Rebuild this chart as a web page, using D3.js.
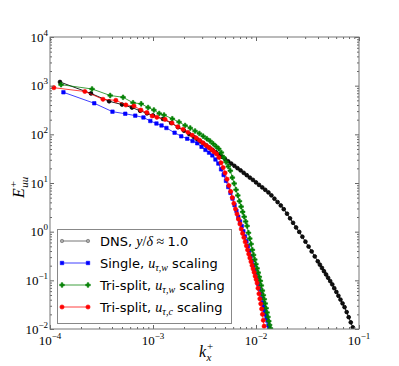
<!DOCTYPE html>
<html>
<head>
<meta charset="utf-8">
<script src="https://cdn.jsdelivr.net/npm/d3@7"></script>
<style>
body { margin: 0; background: #fff; }
svg { display: block; }
</style>
</head>
<body>
<svg id="svg1" width="399" height="366"></svg>
<script>
// axis ticks
var xTicks = [1e-4, 1e-3, 1e-2, 1e-1];
var xTickExp = ['\u22124', '\u22123', '\u22122', '\u22121'];
var yTicks = [1e-2, 1e-1, 1e0, 1e1, 1e2, 1e3, 1e4];
var yTickExp = ['\u22122', '\u22121', '0', '1', '2', '3', '4'];

// DNS, y/delta ~ 1.0
var dnsK = [1.25e-4, 2.5e-4, 3.75e-4, 5e-4, 6.25e-4, 7.5e-4, 8.75e-4, 1e-3, 1.25e-3, 1.5e-3, 1.75e-3, 2e-3, 2.25e-3, 2.5e-3,
  2.69e-3, 2.88e-3, 3.09e-3, 3.31e-3, 3.55e-3, 3.80e-3, 4.07e-3, 4.37e-3, 4.68e-3, 5.01e-3,
  5.37e-3, 5.75e-3, 6.17e-3, 6.61e-3, 7.08e-3, 7.59e-3, 8.13e-3, 8.71e-3, 9.33e-3, 1.00e-2,
  1.07e-2, 1.15e-2, 1.23e-2, 1.32e-2, 1.41e-2, 1.51e-2, 1.62e-2, 1.74e-2, 1.86e-2, 2.00e-2,
  2.14e-2, 2.29e-2, 2.45e-2, 2.63e-2, 2.82e-2, 3.02e-2, 3.24e-2, 3.47e-2, 3.72e-2, 3.98e-2,
  4.17e-2, 4.37e-2, 4.57e-2, 4.79e-2, 5.01e-2, 5.25e-2, 5.50e-2, 5.75e-2, 6.03e-2, 6.31e-2,
  6.61e-2, 6.92e-2, 7.24e-2, 7.59e-2, 7.94e-2, 8.32e-2, 8.71e-2];
var dnsE = [1190, 692, 478, 410, 355, 305, 270, 244, 207, 171, 140, 119, 101, 88,
  79.1, 71.6, 64.7, 58.6, 53.0, 47.6, 42.9, 38.5, 34.6, 31.0,
  27.9, 25.1, 22.5, 20.2, 18.2, 16.2, 14.5, 12.9, 11.6, 10.3,
  9.14, 8.13, 7.23, 6.41, 5.58, 4.76, 4.06, 3.45, 2.90, 2.34,
  1.88, 1.52, 1.22, 0.989, 0.787, 0.624, 0.494, 0.392, 0.310, 0.246,
  0.210, 0.180, 0.154, 0.132, 0.113, 0.0966, 0.0826, 0.0690, 0.0577, 0.0482,
  0.0402, 0.0336, 0.0281, 0.0223, 0.0175, 0.0137, 0.0108];

// Single, u_tau,w scaling
var singleK = [1.35e-4, 2.69e-4, 4.04e-4, 5.38e-4, 6.73e-4, 8.08e-4, 9.42e-4, 1.08e-3, 1.21e-3, 1.35e-3,
  1.62e-3, 1.88e-3, 2.15e-3, 2.42e-3, 2.69e-3,
  2.96e-3, 3.23e-3, 3.50e-3, 3.77e-3, 4.04e-3, 4.31e-3, 4.58e-3, 4.85e-3, 5.11e-3, 5.38e-3,
  5.65e-3, 5.92e-3, 6.19e-3, 6.46e-3, 6.73e-3, 7.00e-3, 7.27e-3, 7.54e-3, 7.81e-3, 8.08e-3,
  8.35e-3, 8.61e-3, 8.88e-3, 9.15e-3, 9.42e-3, 9.69e-3, 9.96e-3, 1.023e-2, 1.050e-2, 1.077e-2,
  1.104e-2, 1.131e-2, 1.158e-2, 1.184e-2, 1.211e-2, 1.238e-2, 1.265e-2, 1.292e-2, 1.319e-2, 1.346e-2];
var singleE = [731, 435, 292, 265, 242, 222, 188, 167, 152, 135,
  108, 91.2, 81.3, 73.0, 65.5,
  55.5, 47.9, 42.0, 36.9, 30.4, 25.1, 19.1, 14.6, 11.1, 8.28,
  6.27, 4.79, 3.50, 2.67, 2.02, 1.62, 1.30, 1.02, 0.800, 0.634,
  0.504, 0.406, 0.316, 0.251, 0.203, 0.161, 0.130, 0.105, 0.0845, 0.0675,
  0.0535, 0.0426, 0.0346, 0.0286, 0.0237, 0.0200, 0.0172, 0.0148, 0.0119, 0.0103];

// Tri-split, u_tau,w scaling
var triWK = [1.28e-4, 2.56e-4, 3.84e-4, 5.12e-4, 6.40e-4, 7.68e-4, 8.96e-4, 1.02e-3, 1.15e-3, 1.28e-3,
  1.54e-3, 1.79e-3, 2.05e-3, 2.30e-3, 2.56e-3,
  2.82e-3, 3.07e-3, 3.33e-3, 3.58e-3, 3.84e-3, 4.10e-3, 4.35e-3, 4.61e-3, 4.86e-3, 5.12e-3,
  5.38e-3, 5.63e-3, 5.89e-3, 6.14e-3, 6.40e-3, 6.66e-3, 6.91e-3, 7.17e-3, 7.42e-3, 7.68e-3,
  7.94e-3, 8.19e-3, 8.45e-3, 8.70e-3, 8.96e-3, 9.22e-3, 9.47e-3, 9.73e-3, 9.98e-3, 1.024e-2,
  1.050e-2, 1.075e-2, 1.101e-2, 1.126e-2, 1.152e-2, 1.178e-2, 1.203e-2, 1.229e-2, 1.254e-2, 1.280e-2,
  1.306e-2, 1.331e-2, 1.357e-2, 1.382e-2];
var triWE = [1047, 855, 628, 577, 445, 424, 356, 316, 268, 249,
  209, 179, 152, 135, 117,
  104, 91.6, 81.3, 73.0, 64.0, 56.5, 50.5, 42.2, 33.6, 27.0,
  21.9, 17.9, 12.9, 9.77, 7.29, 5.56, 4.23, 3.27, 2.55, 2.03,
  1.62, 1.31, 0.948, 0.721, 0.558, 0.423, 0.333, 0.267, 0.215, 0.176,
  0.144, 0.118, 0.0975, 0.0783, 0.0615, 0.0495, 0.0408, 0.0334, 0.0267, 0.0218,
  0.0177, 0.0145, 0.0121, 0.0103];

// Tri-split, u_tau,c scaling
var triCK = [1.09e-4, 2.18e-4, 3.27e-4, 4.36e-4, 5.45e-4, 6.54e-4, 7.63e-4, 8.72e-4, 9.81e-4, 1.09e-3,
  1.31e-3, 1.53e-3, 1.74e-3, 1.96e-3, 2.18e-3,
  2.40e-3, 2.62e-3, 2.83e-3, 3.05e-3, 3.27e-3, 3.49e-3, 3.71e-3, 3.92e-3, 4.14e-3, 4.36e-3,
  4.58e-3, 4.80e-3, 5.01e-3, 5.23e-3, 5.45e-3, 5.67e-3, 5.89e-3, 6.10e-3, 6.32e-3, 6.54e-3,
  6.76e-3, 6.98e-3, 7.19e-3, 7.41e-3, 7.63e-3, 7.85e-3, 8.07e-3, 8.28e-3, 8.50e-3, 8.72e-3,
  8.94e-3, 9.16e-3, 9.37e-3, 9.59e-3, 9.81e-3, 1.003e-2, 1.025e-2, 1.046e-2, 1.068e-2, 1.090e-2,
  1.112e-2, 1.134e-2, 1.155e-2, 1.177e-2, 1.199e-2];
var triCE = [908, 759, 525, 500, 401, 382, 316, 281, 238, 224,
  202, 171, 143, 126, 110,
  95.9, 84.9, 75.5, 67.0, 59.6, 53.7, 48.3, 43.6, 39.6, 33.6,
  26.0, 20.7, 16.1, 12.0, 8.85, 6.70, 5.01, 3.81, 2.92, 2.30,
  1.81, 1.44, 1.13, 0.918, 0.759, 0.617, 0.511, 0.421, 0.346, 0.289,
  0.242, 0.202, 0.172, 0.146, 0.122, 0.104, 0.0877, 0.0690, 0.0530, 0.0418,
  0.0330, 0.0259, 0.0200, 0.0151, 0.0114];

// legend text pieces: [text, style]
var legendParts = [
  [['DNS, ', 'sans'], ['y', 'it'], ['/', 'serif'], ['\u03b4', 'it'], [' \u2248 ', 'serif'], ['1.0', 'sans']],
  [['Single, ', 'sans'], ['u', 'it'], ['\u03c4,w', 'sub'], [' scaling', 'sans']],
  [['Tri-split, ', 'sans'], ['u', 'it'], ['\u03c4,w', 'sub'], [' scaling', 'sans']],
  [['Tri-split, ', 'sans'], ['u', 'it'], ['\u03c4,c', 'sub'], [' scaling', 'sans']]
];

var serif = '"Liberation Serif", "DejaVu Serif", serif';
var sans = '"DejaVu Sans", sans-serif';

var marginLeft = 50;
var marginTop = 37;
var plotW = 309;
var plotH = 292;

var svg = d3.select('#svg1');

var x = d3.scaleLog().domain([1e-4, 1e-1]).range([marginLeft, marginLeft + plotW]);
var y = d3.scaleLog().domain([1e-2, 1e4]).range([marginTop + plotH, marginTop]);

var series = [
  {k: dnsK, e: dnsE, line: '#222', fill: '#111', edge: '#000', sym: d3.symbolCircle, size: 11, sw: 0.8, op: 1},
  {k: singleK, e: singleE, line: '#0000ff', fill: '#0000ff', edge: '#0000ff', sym: d3.symbolSquare, size: 12, sw: 0.6, op: 0.75},
  {k: triWK, e: triWE, line: '#008000', fill: '#008000', edge: '#008000', sym: d3.symbolCross, size: 12, sw: 0.6, op: 0.75},
  {k: triCK, e: triCE, line: '#ff0000', fill: '#ff0000', edge: '#ff0000', sym: d3.symbolCircle, size: 14, sw: 0.6, op: 0.75}
];

svg.append('defs').append('clipPath').attr('id', 'clip')
  .append('rect')
  .attr('x', marginLeft).attr('y', marginTop)
  .attr('width', plotW).attr('height', plotH);

var plot = svg.append('g').attr('clip-path', 'url(#clip)');

var line = d3.line()
  .x(function(d) { return x(d[0]); })
  .y(function(d) { return y(d[1]); });

series.forEach(function(s) {
  var pts = s.k.map(function(k, i) { return [k, s.e[i]]; });
  plot.append('path')
    .datum(pts)
    .attr('d', line)
    .attr('fill', 'none')
    .attr('stroke', s.line)
    .attr('stroke-opacity', s.op)
    .attr('stroke-width', 1);
  plot.selectAll(null)
    .data(pts)
    .enter()
    .append('path')
    .attr('transform', function(d) { return 'translate(' + x(d[0]) + ',' + y(d[1]) + ')'; })
    .attr('d', d3.symbol().type(s.sym).size(s.size))
    .attr('fill', s.fill)
    .attr('stroke', s.edge)
    .attr('stroke-width', s.sw);
});

// minor ticks
var xMinor = x.ticks().filter(function(v) { return xTicks.indexOf(v) < 0; });
var yMinor = y.ticks().filter(function(v) { return yTicks.indexOf(v) < 0; });

function axisG(axis, tx, ty) {
  var g = svg.append('g')
    .attr('transform', 'translate(' + tx + ',' + ty + ')')
    .call(axis);
  g.select('.domain').remove();
  g.selectAll('line').attr('stroke', '#666');
  return g;
}

var bottom = marginTop + plotH, right = marginLeft + plotW;
axisG(d3.axisBottom(x).tickValues(xTicks).tickSize(-4).tickFormat(''), 0, bottom);
axisG(d3.axisBottom(x).tickValues(xMinor).tickSize(-2).tickFormat(''), 0, bottom);
axisG(d3.axisTop(x).tickValues(xTicks).tickSize(-4).tickFormat(''), 0, marginTop);
axisG(d3.axisTop(x).tickValues(xMinor).tickSize(-2).tickFormat(''), 0, marginTop);
axisG(d3.axisLeft(y).tickValues(yTicks).tickSize(-4).tickFormat(''), marginLeft, 0);
axisG(d3.axisLeft(y).tickValues(yMinor).tickSize(-2).tickFormat(''), marginLeft, 0);
axisG(d3.axisRight(y).tickValues(yTicks).tickSize(-4).tickFormat(''), right, 0);
axisG(d3.axisRight(y).tickValues(yMinor).tickSize(-2).tickFormat(''), right, 0);

// frame
svg.append('rect')
  .attr('x', marginLeft).attr('y', marginTop)
  .attr('width', plotW).attr('height', plotH)
  .attr('fill', 'none')
  .attr('stroke', '#777')
  .attr('stroke-width', 1);

// tick labels
xTicks.forEach(function(v, i) {
  var t = svg.append('text')
    .attr('x', x(v)).attr('y', bottom + 16)
    .attr('text-anchor', 'middle')
    .attr('font-family', serif)
    .attr('fill', '#000');
  t.append('tspan').attr('font-size', 13).text('10');
  t.append('tspan').attr('font-size', 9).attr('dy', -6).text(xTickExp[i]);
});

yTicks.forEach(function(v, i) {
  var t = svg.append('text')
    .attr('x', marginLeft - 2).attr('y', y(v) + 4.5)
    .attr('text-anchor', 'end')
    .attr('font-family', serif)
    .attr('fill', '#000');
  t.append('tspan').attr('font-size', 13).text('10');
  t.append('tspan').attr('font-size', 9).attr('dy', -6).text(yTickExp[i]);
});

// axis labels with stacked super/subscripts
function mathLabel(g, base, sup, sub) {
  var b = g.append('text')
    .attr('x', 0).attr('y', 0)
    .attr('font-family', serif).attr('font-style', 'italic')
    .attr('font-size', 16).text(base);
  var w = b.node().getComputedTextLength();
  g.append('text').attr('x', w + 1).attr('y', -7)
    .attr('font-family', serif).attr('font-size', 11).text(sup);
  g.append('text').attr('x', w + 0.5).attr('y', 4)
    .attr('font-family', serif).attr('font-style', 'italic')
    .attr('font-size', 11).text(sub);
}

mathLabel(svg.append('g').attr('transform', 'translate(24,198) rotate(-90)'), 'E', '+', 'uu');
mathLabel(svg.append('g').attr('transform', 'translate(199,357)'), 'k', '+', 'x');

// legend
var lg = svg.append('g');
lg.append('rect')
  .attr('x', 57.5).attr('y', 229.5)
  .attr('width', 174).attr('height', 94)
  .attr('fill', '#fff')
  .attr('stroke', '#888')
  .attr('stroke-width', 1);

legendParts.forEach(function(parts, i) {
  var s = series[i];
  var cy = 241 + i * 22;
  lg.append('line')
    .attr('x1', 62).attr('x2', 88)
    .attr('y1', cy).attr('y2', cy)
    .attr('stroke', i === 0 ? '#777' : s.line)
    .attr('stroke-opacity', s.op)
    .attr('stroke-width', 1);
  [62, 88].forEach(function(px) {
    lg.append('path')
      .attr('transform', 'translate(' + px + ',' + cy + ')')
      .attr('d', d3.symbol().type(s.sym).size(i === 0 ? 9 : s.size))
      .attr('fill', i === 0 ? '#aaa' : s.fill)
      .attr('stroke', i === 0 ? '#666' : s.edge)
      .attr('stroke-width', 0.6);
  });
  var t = lg.append('text')
    .attr('x', 100).attr('y', cy + 4.5)
    .attr('fill', '#000');
  parts.forEach(function(p) {
    var ts = t.append('tspan').text(p[0]);
    if (p[1] === 'sans') {
      ts.attr('font-family', sans).attr('font-size', 13);
    } else if (p[1] === 'serif') {
      ts.attr('font-family', serif).attr('font-size', 14);
    } else if (p[1] === 'it') {
      ts.attr('font-family', serif).attr('font-style', 'italic').attr('font-size', 14);
    } else if (p[1] === 'sub') {
      ts.attr('font-family', serif).attr('font-style', 'italic').attr('font-size', 10).attr('dy', 3);
    }
    if (p[1] !== 'sub' && ts.node().previousSibling && ts.node().previousSibling.getAttribute('dy') === '3') {
      ts.attr('dy', -3);
    }
  });
});
</script>
</body>
</html>
